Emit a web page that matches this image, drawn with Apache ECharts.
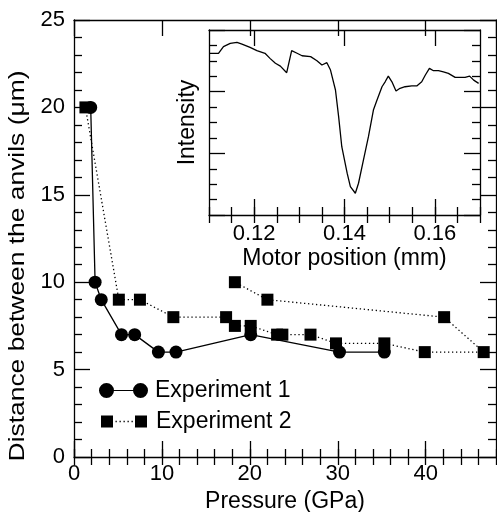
<!DOCTYPE html>
<html><head><meta charset="utf-8">
<script src="https://cdn.jsdelivr.net/npm/echarts@6/dist/echarts.min.js"></script>
<style>html,body{margin:0;padding:0;background:#fff}#c{width:497px;height:512px}</style>
</head><body><div id="c"></div>
<script>
// Main chart data
const pressureExp1 = [1.9, 2.4, 3.1, 5.4, 6.9, 9.6, 11.6, 20.1, 30.2, 35.3];
const distanceExp1 = [20, 10, 9, 7, 7, 6, 6, 7, 6, 6];
const pressureExp2 = [1.3, 5.1, 7.5, 11.3, 17.3, 18.3, 20.1, 23.1, 23.7, 26.9, 29.8, 35.3, 39.9, 46.6, 42.1, 22.0, 18.3];
const distanceExp2 = [20, 9, 9, 8, 8, 7.5, 7.5, 7, 7, 7, 6.5, 6.5, 6, 6, 8, 9, 10];
const seriesNames = ['Experiment 1', 'Experiment 2'];
const xTitle = 'Pressure (GPa)';
const yTitle = 'Distance between the anvils (\u03bcm)';

// Inset data
const motorPosition = [0.1101,0.1121,0.1132,0.1147,0.1162,0.1173,0.1191,0.1206,0.1224,0.1235,0.1247,0.1258,0.1272,0.1283,0.1295,0.1306,0.1325,0.1339,0.1350,0.1361,0.1369,0.1380,0.1387,0.1394,0.1406,0.1413,0.1424,0.1431,0.1442,0.1453,0.1464,0.1472,0.1483,0.1490,0.1497,0.1505,0.1514,0.1523,0.1534,0.1549,0.1560,0.1571,0.1579,0.1588,0.1597,0.1608,0.1619,0.1630,0.1645,0.1656,0.1667,0.1677,0.1686,0.1697];
const intensity = [10.49,10.49,10.92,11.13,11.20,11.09,10.87,10.66,10.49,10.16,9.84,9.66,9.23,10.66,10.49,10.33,10.27,10.01,9.73,9.88,9.40,8.11,6.38,4.43,2.70,1.84,1.41,2.06,3.57,5.08,6.81,7.46,8.32,8.64,9.01,8.64,8.04,8.22,8.32,8.37,8.37,8.64,9.08,9.51,9.36,9.36,9.29,9.19,8.93,8.93,8.93,9.01,8.75,8.54];
const insetXTicks = [0.12, 0.14, 0.16];
const insetXTitle = 'Motor position (mm)';
const insetYTitle = 'Intensity';

const FONT = "'Liberation Sans', Arial, Helvetica, sans-serif";
const BLACK = '#000';
const LW = 1.3;
const tickStyle = {color: BLACK, width: LW};

function ax(o) {
  return Object.assign({
    type: 'value',
    splitLine: {show: false},
    axisLine: {show: false},
    axisTick: {show: false},
    axisLabel: {show: false},
    minorTick: {show: false},
    minorSplitLine: {show: false}
  }, o);
}
const lineOn = {show: true, onZero: false, lineStyle: {color: BLACK, width: LW}};
const majorTick = {show: true, inside: true, length: 16, lineStyle: tickStyle};
const minorTickX = {show: true, inside: true, length: 8, lineStyle: tickStyle};

const xAxes = [
  ax({gridIndex: 0, position: 'bottom', min: 0, max: 48, interval: 10, axisLine: lineOn, axisTick: majorTick,
      axisLabel: {show: true, showMaxLabel: false, margin: 6, fontSize: 22, color: BLACK, fontFamily: FONT},
      name: xTitle, nameLocation: 'middle', nameGap: 30, nameTextStyle: {fontSize: 23, color: BLACK, fontFamily: FONT}}),
  ax({gridIndex: 0, position: 'bottom', min: 0, max: 48, interval: 2, axisTick: minorTickX}),
  ax({gridIndex: 0, position: 'top', min: 0, max: 48, interval: 10, axisLine: lineOn, axisTick: majorTick}),
  ax({gridIndex: 0, position: 'top', min: 0, max: 48, interval: 2, axisTick: minorTickX}),
  ax({gridIndex: 1, position: 'bottom', min: 0.11, max: 0.17, axisLine: lineOn,
      axisTick: Object.assign({customValues: insetXTicks}, majorTick),
      axisLabel: {show: true, customValues: insetXTicks, margin: 8, fontSize: 22, color: BLACK, fontFamily: FONT, formatter: v => (+v).toFixed(2)},
      name: insetXTitle, nameLocation: 'middle', nameGap: 32, nameTextStyle: {fontSize: 23, color: BLACK, fontFamily: FONT}}),
  ax({gridIndex: 1, position: 'bottom', min: 0.11, max: 0.17, interval: 0.005, axisTick: minorTickX}),
  ax({gridIndex: 1, position: 'top', min: 0.11, max: 0.17, axisLine: lineOn,
      axisTick: Object.assign({customValues: insetXTicks}, majorTick)}),
  ax({gridIndex: 1, position: 'top', min: 0.11, max: 0.17, interval: 0.005, axisTick: minorTickX})
];
const yAxes = [
  ax({gridIndex: 0, position: 'left', min: 0, max: 25, interval: 5, axisLine: lineOn, axisTick: majorTick,
      minorTick: {show: true, splitNumber: 5, length: 8, lineStyle: tickStyle},
      axisLabel: {show: true, margin: 9, fontSize: 22, color: BLACK, fontFamily: FONT}}),
  ax({gridIndex: 0, position: 'right', min: 0, max: 25, interval: 5, axisLine: lineOn, axisTick: majorTick,
      minorTick: {show: true, splitNumber: 5, length: 8, lineStyle: tickStyle}}),
  ax({gridIndex: 1, position: 'left', min: 0, max: 12, interval: 4, axisLine: lineOn, axisTick: majorTick,
      minorTick: {show: true, splitNumber: 4, length: 8, lineStyle: tickStyle},
      name: insetYTitle, nameLocation: 'middle', nameGap: 10, nameTextStyle: {fontSize: 23, color: BLACK, fontFamily: FONT}}),
  ax({gridIndex: 1, position: 'right', min: 0, max: 12, interval: 4, axisLine: lineOn, axisTick: majorTick,
      minorTick: {show: true, splitNumber: 4, length: 8, lineStyle: tickStyle}})
];

const icon1 = 'path://M0,7.5A7.5,7.5,0,1,1,15,7.5A7.5,7.5,0,1,1,0,7.5ZM14,6.9L35,6.9L35,8.1L14,8.1ZM34,7.5A7.5,7.5,0,1,1,49,7.5A7.5,7.5,0,1,1,34,7.5Z';
const icon2 = 'path://M0,0H12V12H0ZM14.5,5.35H15.8V6.65H14.5ZM18.5,5.35H19.8V6.65H18.5ZM22.5,5.35H23.8V6.65H22.5ZM26.5,5.35H27.8V6.65H26.5ZM30.5,5.35H31.8V6.65H30.5ZM34,0H46V12H34Z';

const chart = echarts.init(document.getElementById('c'), null, {renderer: 'canvas'});
chart.setOption({
  animation: false,
  backgroundColor: '#fff',
  textStyle: {fontFamily: FONT, color: BLACK},
  grid: [
    {left: 74, top: 20, right: 1, bottom: 55, outerBoundsMode: 'none', containLabel: false},
    {left: 209, top: 30, width: 271, height: 185, outerBoundsMode: 'none', containLabel: false}
  ],
  xAxis: xAxes,
  yAxis: yAxes,
  graphic: [
    {type: 'text', x: 18, y: 266, rotation: Math.PI / 2, scaleX: 1.2, scaleY: 1,
     style: {text: yTitle, fontSize: 22, fontFamily: FONT, fill: BLACK, align: 'center', verticalAlign: 'middle'}}
  ],
  legend: [
    {data: [{name: seriesNames[0], icon: icon1}], left: 99, top: 379, padding: 0, itemWidth: 49, itemHeight: 15,
     itemStyle: {color: BLACK, borderWidth: 0}, selectedMode: false,
     textStyle: {fontSize: 23, color: BLACK, fontFamily: FONT, padding: [0, 0, 0, 2]}},
    {data: [{name: seriesNames[1], icon: icon2}], left: 101, top: 410, padding: 0, itemWidth: 46, itemHeight: 12,
     itemStyle: {color: BLACK, borderWidth: 0}, selectedMode: false,
     textStyle: {fontSize: 23, color: BLACK, fontFamily: FONT, padding: [0, 0, 0, 4]}}
  ],
  series: [
    {name: seriesNames[0], type: 'line', xAxisIndex: 0, yAxisIndex: 0,
     data: pressureExp1.map((p, i) => [p, distanceExp1[i]]),
     symbol: 'circle', symbolSize: 13, itemStyle: {color: BLACK},
     lineStyle: {color: BLACK, width: LW}, z: 3},
    {name: seriesNames[1], type: 'line', xAxisIndex: 0, yAxisIndex: 0,
     data: pressureExp2.map((p, i) => [p, distanceExp2[i]]),
     symbol: 'rect', symbolSize: 12, itemStyle: {color: BLACK},
     lineStyle: {color: BLACK, width: LW, type: [1.3, 2.7]}, z: 4},
    {name: 'inset', type: 'line', xAxisIndex: 4, yAxisIndex: 2,
     data: motorPosition.map((m, i) => [m, intensity[i]]),
     symbol: 'none', lineStyle: {color: BLACK, width: LW}}
  ]
});
</script></body></html>
